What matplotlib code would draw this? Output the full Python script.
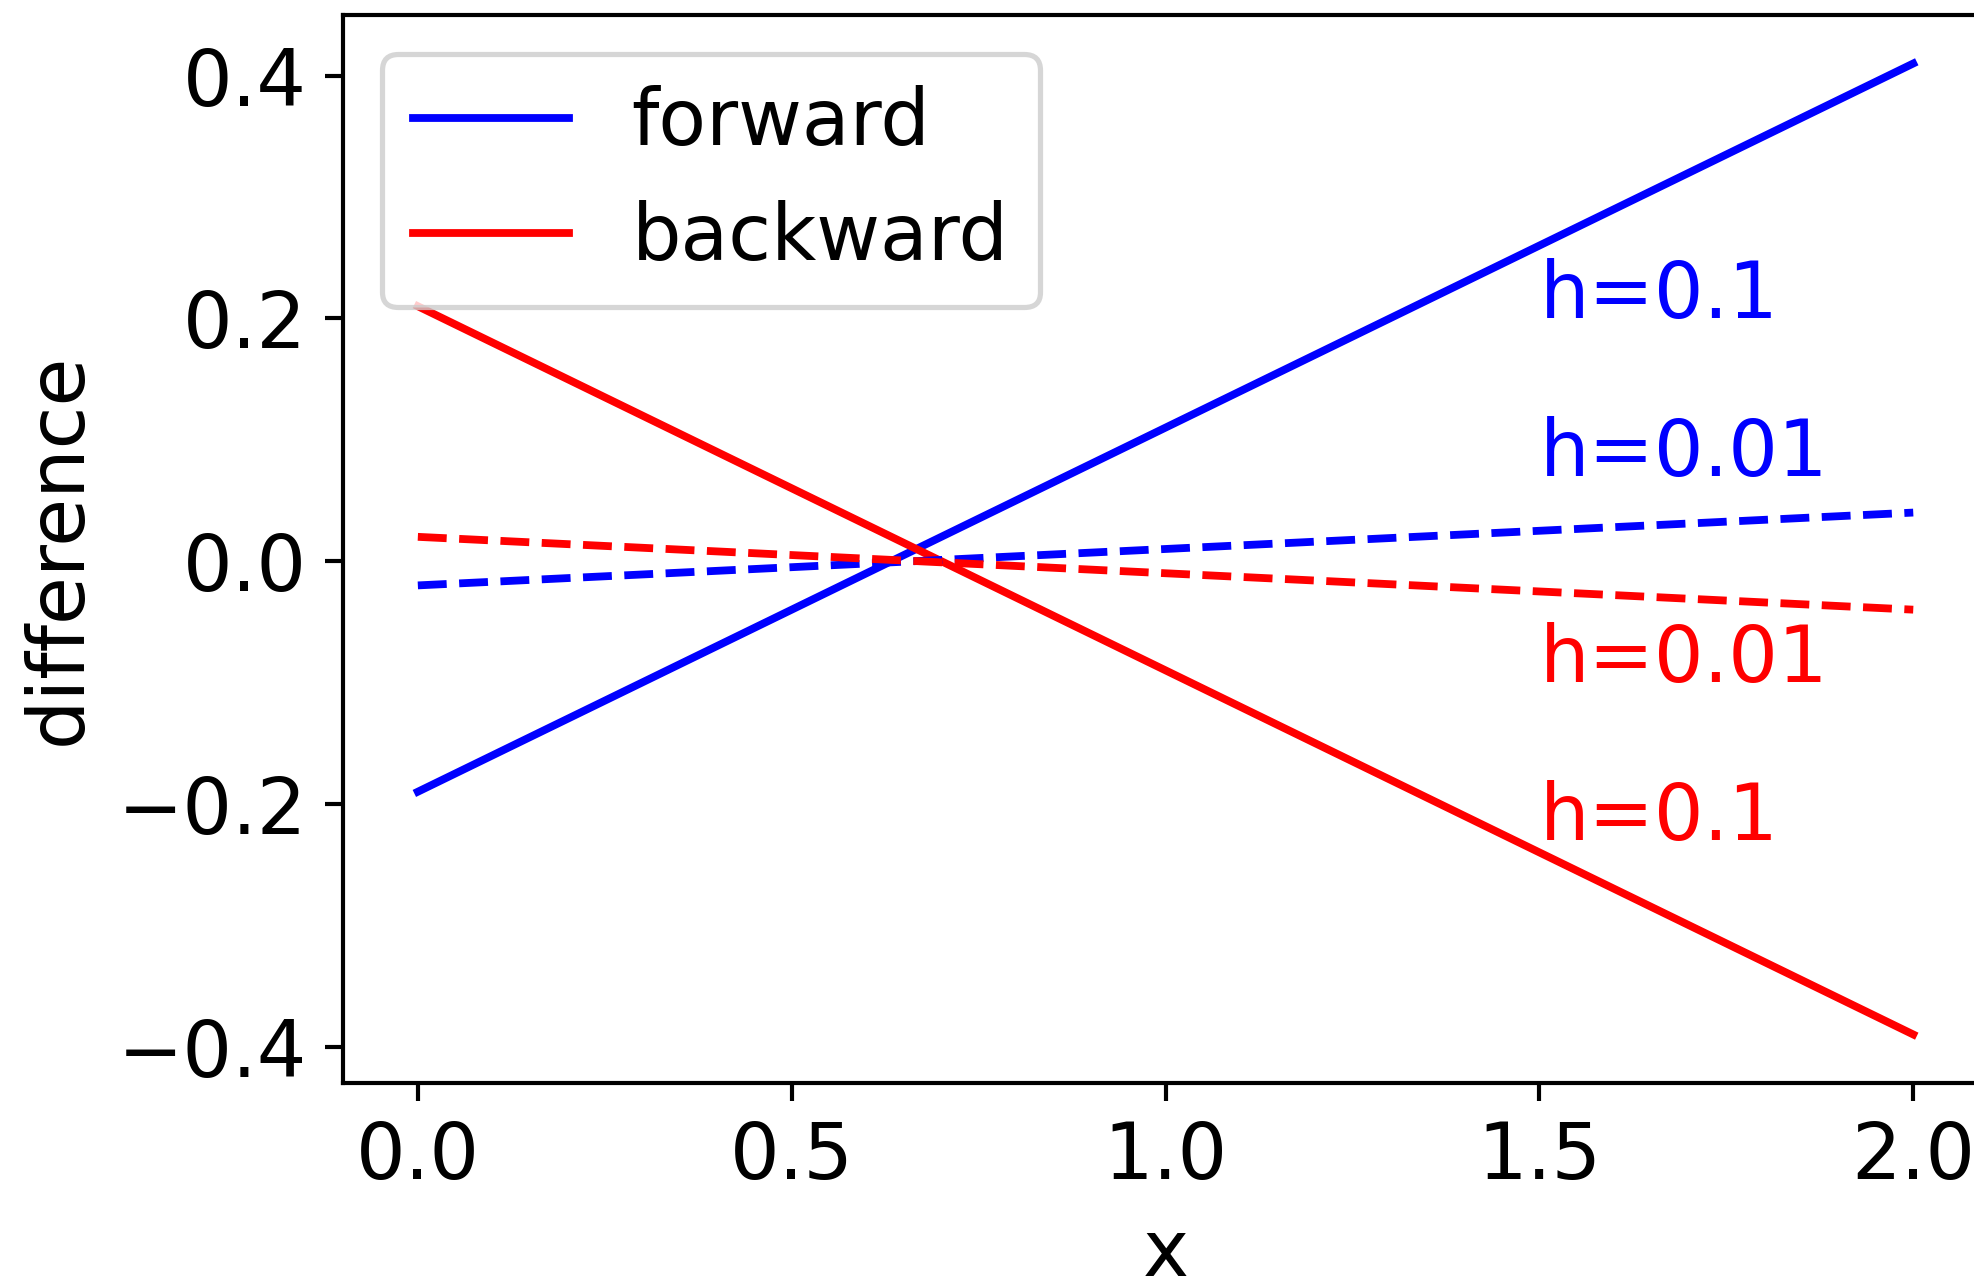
import matplotlib
matplotlib.use("Agg")
import matplotlib.pyplot as plt

# ---- data ----
x = [0.0, 0.5, 1.0, 1.5, 2.0]
forward_h01 = [-0.19, -0.04, 0.11, 0.26, 0.41]
backward_h01 = [0.21, 0.06, -0.09, -0.24, -0.39]
forward_h001 = [-0.020, -0.005, 0.010, 0.025, 0.040]
backward_h001 = [0.020, 0.005, -0.010, -0.025, -0.040]

annotations = [
    (1.5, 0.20, "h=0.1", "b"),
    (1.5, 0.07, "h=0.01", "b"),
    (1.5, -0.10, "h=0.01", "r"),
    (1.5, -0.23, "h=0.1", "r"),
]

DPI = 374.4
plt.rcParams["font.family"] = ["DejaVu Sans"]
plt.rcParams["font.size"] = 15

fig = plt.figure(figsize=(1974 / DPI, 1277 / DPI), dpi=DPI)
ax = fig.add_axes([0.1738, 0.1519, 1.0071 - 0.1738, 0.9883 - 0.1519])

ax.plot(x, forward_h01, "b-", label="forward")
ax.plot(x, backward_h01, "r-", label="backward")
ax.plot(x, forward_h001, "b--")
ax.plot(x, backward_h001, "r--")

for tx, ty, s, c in annotations:
    ax.text(tx, ty, s, color=c)

ax.set_xlabel("x")
ax.set_ylabel("difference")
ax.legend(loc="upper left")

fig.savefig("out.png", dpi=DPI)
